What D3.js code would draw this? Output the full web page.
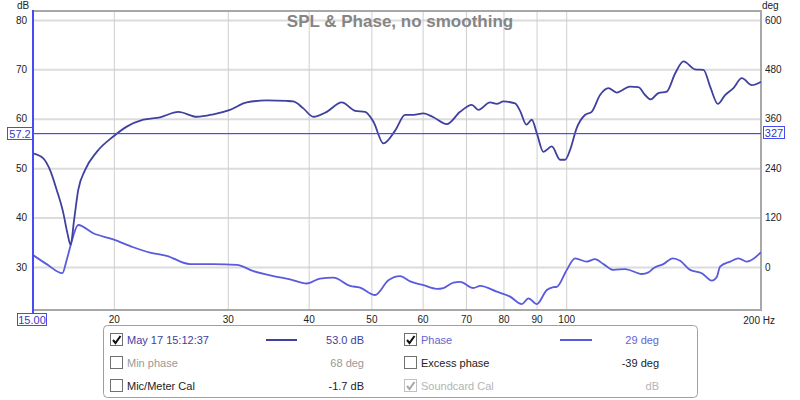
<!DOCTYPE html>
<html>
<head>
<meta charset="utf-8">
<script src="https://cdn.jsdelivr.net/npm/d3@7"></script>
<style>
  body { margin: 0; background: #fff; }
  svg { font-family: "Liberation Sans", Arial, sans-serif; }
  .tick text { fill: #222; }
</style>
</head>
<body>
<div id="chart"></div>
<script>
// DATA
var splFreq = [15, 15.56, 15.94, 16.32, 16.71, 16.95, 17.15, 17.36, 17.62, 18.05, 18.82, 19.96, 20.94, 22.21, 23.57, 25.16, 26.87, 28.5, 30.24, 32.09, 34.46, 37.0, 37.88, 39.25, 40.67, 42.66, 45.0, 47.19, 48.9, 50.37, 52.19, 54.41, 56.38, 58.07, 60.17, 62.35, 65.39, 68.56, 71.48, 73.17, 76.28, 78.12, 79.98, 83.38, 84.87, 86.8, 88.48, 90.07, 92.21, 95.01, 97.86, 99.62, 101.4, 103.8, 107.0, 109.5, 112.8, 116.2, 119.7, 125.5, 129.3, 132.4, 135.1, 138.8, 143.0, 147.4, 151.8, 158.2, 163.0, 166.9, 171.5, 176.0, 181.3, 186.8, 193.6, 200];
var splDb = [53.0, 52.0, 49.6, 45.6, 40.9, 36.9, 34.5, 39.5, 45.6, 49.6, 53.3, 56.4, 58.4, 59.8, 60.3, 61.4, 60.4, 60.9, 61.8, 63.3, 63.7, 63.6, 63.5, 62.1, 60.4, 61.4, 63.3, 61.6, 61.4, 59.4, 55.0, 57.6, 60.8, 60.8, 61.1, 60.3, 58.9, 61.4, 62.8, 61.8, 63.3, 63.0, 63.5, 63.1, 61.6, 58.8, 59.8, 57.1, 53.3, 54.4, 51.7, 51.7, 53.7, 58.1, 60.8, 61.4, 64.8, 66.2, 65.3, 66.5, 66.4, 64.8, 63.9, 65.2, 65.5, 69.2, 71.6, 70.0, 69.9, 66.5, 63.0, 64.8, 66.2, 68.2, 66.8, 67.5];

var phaseFreq = [15, 15.75, 16.65, 16.91, 17.15, 17.62, 18.59, 19.96, 21.43, 22.75, 24.14, 26.23, 28.5, 30.97, 32.86, 35.28, 37.44, 39.73, 41.65, 43.67, 46.36, 48.04, 50.67, 53.12, 55.38, 57.39, 60.17, 63.1, 64.6, 66.95, 68.56, 71.88, 73.62, 78.12, 81.91, 85.39, 87.42, 90.07, 93.33, 95.55, 96.72, 100.2, 103.2, 107.6, 110.8, 114.2, 118.3, 123.3, 130.9, 134.0, 136.4, 141.3, 146.2, 150, 155.4, 162.0, 167.9, 170.9, 172.9, 179.2, 184.6, 190.2, 200];
var phaseDeg = [29, 7, -15, 17, 53, 102, 82, 67, 48, 35, 27, 7, 7, 5, -10, -22, -30, -40, -28, -26, -46, -50, -68, -32, -22, -35, -44, -53, -51, -38, -36, -51, -46, -60, -72, -90, -76, -90, -56, -49, -48, -7, 21, 13, 19, 7, -7, -5, -17, -13, -3, 7, 21, 15, -7, -15, -33, -24, 1, 13, 21, 13, 36];

var dbTicks = [30, 40, 50, 60, 70, 80];
var degTicks = [0, 120, 240, 360, 480, 600];
var freqTicks = [20, 30, 40, 50, 60, 70, 80, 90, 100];

var cursorDb = 57.2;
var cursorDeg = 327;
var cursorFreq = 15.00;

var legendLabels = ["May 17 15:12:37", "Phase", "Min phase", "Excess phase", "Mic/Meter Cal", "Soundcard Cal"];
var legendValues = ["53.0 dB", "29 deg", "68 deg", "-39 deg", "-1.7 dB", "dB"];
var legendChecked = [true, true, false, false, false, true];

//SVG + plot frame
var svgWidth = 800, svgHeight = 400;
var plot = { left: 33, right: 761, top: 11, bottom: 310 };
var plotW = plot.right - plot.left, plotH = plot.bottom - plot.top;

var splColor = "#40409f", phaseColor = "#5a5ade", cursorColor = "#4a4af2";

var svg = d3.select("#chart").append("svg")
    .attr("width", svgWidth)
    .attr("height", svgHeight);

//SCALES
var xScale = d3.scaleLog().domain([15, 200]).range([plot.left, plot.right]);
var yDb = d3.scaleLinear().domain([21.3, 81.8]).range([plot.bottom, plot.top]);
var yDeg = d3.scaleLinear().domain([(21.3 - 30) * 12, (81.8 - 30) * 12]).range([plot.bottom, plot.top]);

//GRID
svg.append("g")
    .attr("transform", `translate(${plot.left},0)`)
    .call(d3.axisLeft(yDb).tickValues(dbTicks).tickSize(-plotW).tickFormat(""))
    .call(g => g.select(".domain").remove())
    .call(g => g.selectAll("line").attr("stroke", "#dcdcdc").attr("stroke-width", 2));

svg.append("g")
    .attr("transform", `translate(0,${plot.bottom})`)
    .call(d3.axisBottom(xScale).tickValues(freqTicks).tickSize(-plotH).tickFormat(""))
    .call(g => g.select(".domain").remove())
    .call(g => g.selectAll("line").attr("stroke", "#cfcfcf").attr("stroke-width", 1));

//TITLE (drawn over the grid)
svg.append("text")
    .attr("x", 400).attr("y", 27)
    .attr("text-anchor", "middle")
    .attr("font-size", 17).attr("font-weight", "bold")
    .attr("fill", "#858585")
    .text("SPL & Phase, no smoothing");

//AXIS LABELS
svg.append("g")
    .attr("transform", `translate(${plot.left},0)`)
    .call(d3.axisLeft(yDb).tickValues(dbTicks).tickSize(0).tickPadding(6))
    .call(g => g.select(".domain").remove())
    .attr("font-size", 10);

svg.append("g")
    .attr("transform", `translate(${plot.right},0)`)
    .call(d3.axisRight(yDeg).tickValues(degTicks).tickSize(0).tickPadding(4))
    .call(g => g.select(".domain").remove())
    .attr("font-size", 10);

svg.append("g")
    .attr("transform", `translate(0,${plot.bottom})`)
    .call(d3.axisBottom(xScale).tickValues(freqTicks).tickSize(0).tickPadding(6).tickFormat(d3.format("d")))
    .call(g => g.select(".domain").remove())
    .attr("font-size", 10);

svg.append("text").attr("x", 17).attr("y", 9).attr("font-size", 10).attr("fill", "#222").text("dB");
svg.append("text").attr("x", 762).attr("y", 9).attr("font-size", 10).attr("fill", "#222").text("deg");
svg.append("text").attr("x", 775).attr("y", 324).attr("text-anchor", "end").attr("font-size", 10).attr("fill", "#222").text("200 Hz");

//FRAME
svg.append("rect")
    .attr("x", plot.left).attr("y", plot.top)
    .attr("width", plotW).attr("height", plotH)
    .attr("fill", "none")
    .attr("stroke", "#a8a8a8")
    .attr("stroke-width", 2);

//CURVES
svg.append("clipPath").attr("id", "clip")
    .append("rect").attr("x", plot.left).attr("y", plot.top).attr("width", plotW).attr("height", plotH);

var splLine = d3.line()
    .x(d => xScale(d[0]))
    .y(d => yDb(d[1]))
    .curve(d3.curveMonotoneX);

var phaseLine = d3.line()
    .x(d => xScale(d[0]))
    .y(d => yDeg(d[1]))
    .curve(d3.curveMonotoneX);

var curves = svg.append("g").attr("clip-path", "url(#clip)");

curves.append("path")
    .datum(d3.zip(phaseFreq, phaseDeg))
    .attr("d", phaseLine)
    .attr("fill", "none")
    .attr("stroke", phaseColor)
    .attr("stroke-width", 1.8);

curves.append("path")
    .datum(d3.zip(splFreq, splDb))
    .attr("d", splLine)
    .attr("fill", "none")
    .attr("stroke", splColor)
    .attr("stroke-width", 1.8);

//CURSORS
var cy = Math.round(yDb(cursorDb)) + 0.5;
svg.append("rect")
    .attr("x", 32).attr("y", cy - 0.5)
    .attr("width", plot.right - 32).attr("height", 1.2)
    .attr("fill", cursorColor);

svg.append("line")
    .attr("x1", xScale(cursorFreq)).attr("x2", xScale(cursorFreq))
    .attr("y1", plot.top - 1).attr("y2", 314)
    .attr("stroke", cursorColor).attr("stroke-width", 2);

function cursorBox(bx, by, w, label) {
    svg.append("rect")
        .attr("x", bx).attr("y", by)
        .attr("width", w).attr("height", 12)
        .attr("fill", "#fff")
        .attr("stroke", cursorColor).attr("stroke-width", 1);
    svg.append("text")
        .attr("x", bx + w / 2).attr("y", by + 10)
        .attr("text-anchor", "middle")
        .attr("font-size", 11)
        .attr("fill", "#3838c8")
        .text(label);
}
cursorBox(7.5, cy - 6, 25, d3.format(".1f")(cursorDb));
cursorBox(763.5, Math.round(yDeg(cursorDeg)) - 5.5, 21, cursorDeg);
cursorBox(17.5, 313.5, 29, d3.format(".2f")(cursorFreq));

//LEGEND
var legend = svg.append("g");
legend.append("rect")
    .attr("x", 103.5).attr("y", 325.5)
    .attr("width", 594).attr("height", 72)
    .attr("rx", 4)
    .attr("fill", "#fff")
    .attr("stroke", "#a0a0a0");

var textColors = [splColor, "#6464d4", "#999", "#222", "#222", "#b4b4b4"];
var colX = [110, 404], valX = [364, 659], rowY = [340, 363, 386];

legendLabels.forEach(function(label, i) {
    var col = i % 2, row = Math.floor(i / 2);
    var bx = colX[col], by = rowY[row];
    var faded = (i === 5);

    legend.append("rect")
        .attr("x", bx + 0.5).attr("y", by - 6.5)
        .attr("width", 12).attr("height", 12)
        .attr("fill", "#fff")
        .attr("stroke", faded ? "#c0c0c0" : "#707070");

    if (legendChecked[i]) {
        legend.append("path")
            .attr("d", `M${bx + 3},${by} L${bx + 5.5},${by + 3} L${bx + 10.5},${by - 4}`)
            .attr("fill", "none")
            .attr("stroke", faded ? "#a8a8a8" : "#111")
            .attr("stroke-width", 2);
    }

    legend.append("text")
        .attr("x", bx + 17).attr("y", by + 4)
        .attr("font-size", 11)
        .attr("fill", textColors[i])
        .text(label);

    legend.append("text")
        .attr("x", valX[col]).attr("y", by + 4)
        .attr("text-anchor", "end")
        .attr("font-size", 11)
        .attr("fill", textColors[i])
        .text(legendValues[i]);
});

//line samples next to the two shown traces
legend.append("line").attr("x1", 266).attr("x2", 297).attr("y1", 340).attr("y2", 340)
    .attr("stroke", splColor).attr("stroke-width", 2);
legend.append("line").attr("x1", 560).attr("x2", 592).attr("y1", 340).attr("y2", 340)
    .attr("stroke", phaseColor).attr("stroke-width", 2);
</script>
</body>
</html>
